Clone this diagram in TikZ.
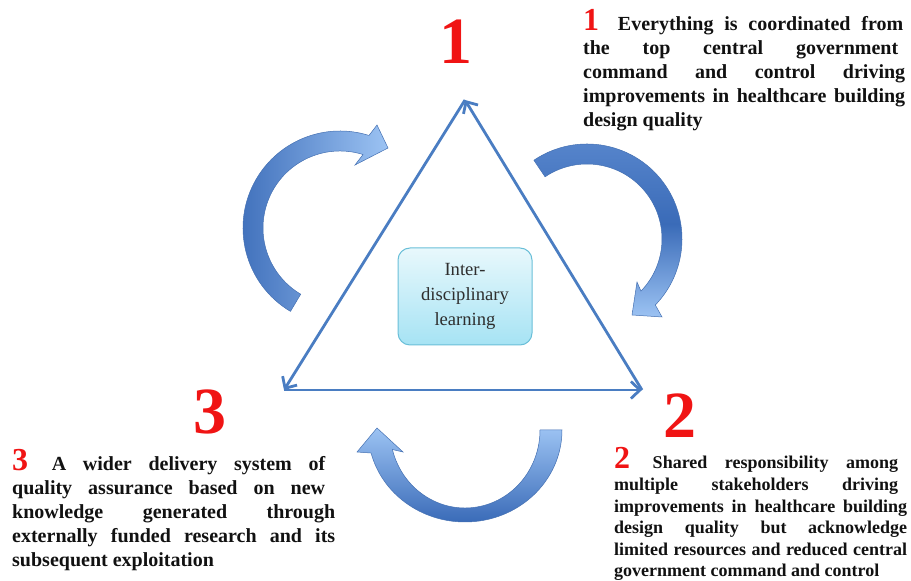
\documentclass[tikz,border=0pt]{standalone}
\usepackage{fontspec}
\setmainfont{Liberation Serif}
\usetikzlibrary{arrows.meta,calc}
\definecolor{triblue}{HTML}{4A7DC2}
\definecolor{numred}{HTML}{F01414}
\definecolor{arrdark}{HTML}{3A6BB8}
\definecolor{arrmid}{HTML}{5A88CE}
\definecolor{arrlight}{HTML}{9CC3F3}
\definecolor{arredge}{HTML}{4470B2}
\definecolor{boxtop}{HTML}{E8F8FC}
\definecolor{boxbot}{HTML}{A6E3F4}
\definecolor{boxedge}{HTML}{6ABFD8}
\definecolor{txt}{HTML}{111111}
\newcommand\jline[2]{\makebox[#1][s]{#2}}
\newcommand\rnum[1]{\textcolor{numred}{\fontsize{32}{32}\selectfont #1}}
\begin{document}
\begin{tikzpicture}[x=1pt,y=1pt,
  tri/.style={draw=triblue, line width=2.8pt, -{Straight Barb[length=9pt,width=17pt]}},
  bignum/.style={text=numred, font=\fontsize{66}{66}\selectfont\bfseries, inner sep=0pt},
  ibox/.style={draw=boxedge, line width=1pt, rounded corners=12pt, top color=boxtop, bottom color=boxbot,
    minimum width=134pt, minimum height=97pt, align=center, inner sep=0pt,
    font=\fontsize{18.6}{25}\selectfont, text=black!82},
  lineA/.style={anchor=base west, inner sep=0pt, font=\fontsize{20}{24}\selectfont\bfseries, text=txt},
  lineB/.style={anchor=base west, inner sep=0pt, font=\fontsize{18}{22}\selectfont\bfseries, text=txt},
  arr/.style={draw=arredge, line width=0.5pt}
]
\useasboundingbox (0,0) rectangle (911,581);

% curved arrows
\coordinate (cL) at (340,353);
\coordinate (cR) at (587,342);
\coordinate (cB) at (465,151);
\path[arr, left color=arrdark, right color=arrlight]
  ($(cL)+(239.3:97pt)$) arc[start angle=239.3, end angle=72.6, radius=97pt]
  -- (377,456) -- (388,433) -- (355,416)
  -- ($(cL)+(72.6:77pt)$) arc[start angle=72.6, end angle=239.3, radius=77pt] -- cycle;
\path[arr, top color=arrmid, bottom color=arrlight, middle color=arrdark]
  ($(cR)+(124:95pt)$) arc[start angle=124, end angle=-44, radius=95pt]
  -- (662,264) -- (632,266) -- (637,299)
  -- ($(cR)+(-44:75pt)$) arc[start angle=-44, end angle=124, radius=75pt] -- cycle;
\path[arr, top color=arrlight, bottom color=arrdark]
  ($(cB)+(0:97pt and 92pt)$) arc[start angle=0, end angle=-165.5, x radius=97pt, y radius=92pt]
  -- (357,129) -- (377,153) -- (403,129)
  -- ($(cB)+(-165.5:75pt and 78pt)$) arc[start angle=-165.5, end angle=0, x radius=75pt, y radius=78pt] -- cycle;

% triangle
\coordinate (A) at (465,481);
\coordinate (B) at (284,191);
\coordinate (C) at (642,191);
\draw[tri] (A) -- (B);
\draw[tri] (B) -- (C);
\draw[tri] (C) -- (A);

% centre box
\node[ibox] (learn) at (465,284.5) {Inter-\\disciplinary\\learning};

% big numbers
\node[bignum] (n1) at (456,539) {1};
\node[bignum] (n2) at (680,165) {2};
\node[bignum] (n3) at (210,169) {3};

% text block 1
\node[lineA] (a1) at (583,550)   {\jline{320pt}{\rnum{1}\hspace{8pt} Everything is coordinated from}};
\node[lineA] (a2) at (583,526.2) {\jline{315pt}{the top central government}};
\node[lineA] (a3) at (583,502.4) {\jline{322pt}{command and control driving}};
\node[lineA] (a4) at (583,478.6) {\jline{322pt}{improvements in healthcare building}};
\node[lineA] (a5) at (583,454.8) {design quality};

% text block 2
\node[lineB] (b1) at (614,112)  {\jline{284pt}{\rnum{2}\hspace{5pt} Shared responsibility among}};
\node[lineB] (b2) at (614,90.4) {\jline{284pt}{multiple stakeholders driving}};
\node[lineB] (b3) at (614,68.8) {\jline{293pt}{improvements in healthcare building}};
\node[lineB] (b4) at (614,47.2) {\jline{293pt}{design quality but acknowledge}};
\node[lineB] (b5) at (614,25.6) {\jline{293pt}{limited resources and reduced central}};
\node[lineB] (b6) at (614,4)    {government command and control};

% text block 3
\node[lineA] (c1) at (12,110) {\jline{313pt}{\rnum{3}\hspace{7pt} A wider delivery system of}};
\node[lineA] (c2) at (12,86)  {\jline{313pt}{quality assurance based on new}};
\node[lineA] (c3) at (12,62)  {\jline{323pt}{knowledge generated through}};
\node[lineA] (c4) at (12,38)  {\jline{323pt}{externally funded research and its}};
\node[lineA] (c5) at (12,14)  {subsequent exploitation};
\end{tikzpicture}
\end{document}
